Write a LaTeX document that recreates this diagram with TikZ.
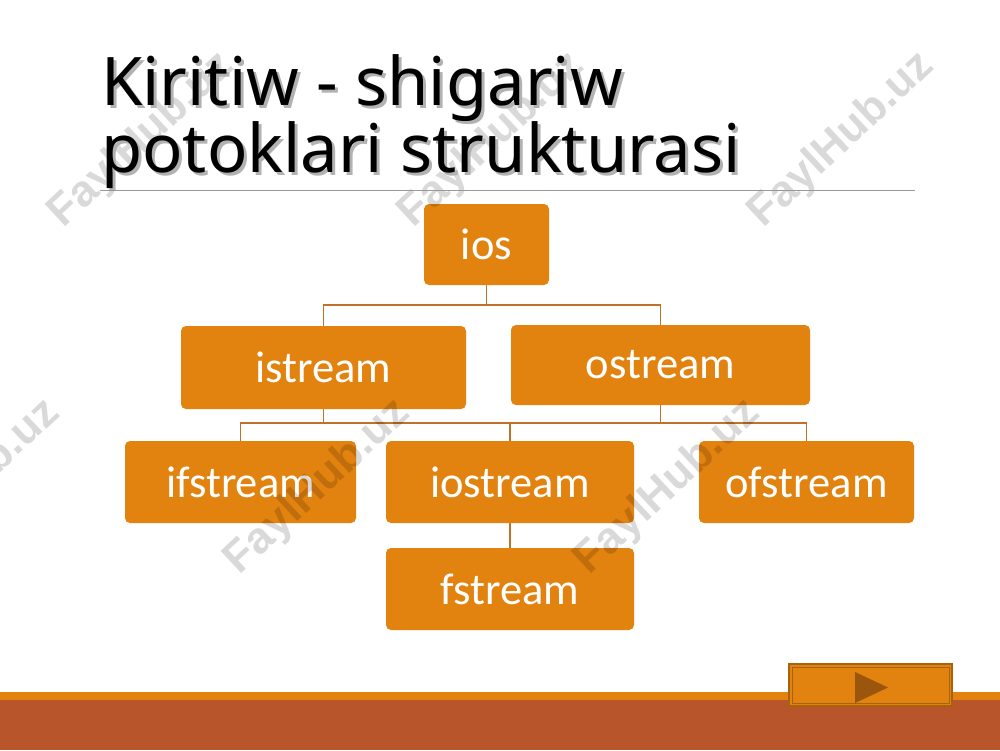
\documentclass[tikz,border=0pt]{standalone}
\usepackage{fontspec}
\setmainfont{Noto Sans}
\newfontfamily\cajafont{Carlito}
\newfontfamily\marcafont{Liberation Sans}
\definecolor{naranja}{HTML}{E2820F}
\definecolor{linea}{HTML}{BF7228}
\definecolor{oxido}{HTML}{B9552B}
\definecolor{boton}{HTML}{A8620E}
\definecolor{flecha}{HTML}{9A560C}

\begin{document}
\begin{tikzpicture}[x=1pt, y=-1pt,
  caja/.style={fill=naranja, rounded corners=5pt, inner sep=0pt, text=white,
    font=\cajafont\fontsize{44.5}{44.5}\selectfont},
  enlace/.style={draw=linea, line width=1.9pt},
  titulo/.style={anchor=base west, inner sep=0pt, font=\fontsize{67}{67}\selectfont},
  marca/.style={rotate=43, text=black, text opacity=0.15,
    font=\marcafont\bfseries\fontsize{44}{44}\selectfont}]

  \useasboundingbox (0,0) rectangle (1000,750);
  \fill[white] (0,0) rectangle (1000,750);

  % Franja inferior
  \fill[naranja] (0,692) rectangle (1000,700);
  \fill[oxido] (0,700) rectangle (1000,750);

  % Cajas del esquema
  \node[caja, minimum width=125, minimum height=81] (ios) at (486.5,244.5) {ios};
  \node[caja, minimum width=285, minimum height=83] (istream) at (323.5,367.5) {istream};
  \node[caja, minimum width=299, minimum height=80] (ostream) at (660.5,365) {ostream};
  \node[caja, minimum width=231, minimum height=82] (ifstream) at (240.5,482) {ifstream};
  \node[caja, minimum width=248, minimum height=82] (iostream) at (510,482) {iostream};
  \node[caja, minimum width=215, minimum height=82] (ofstream) at (806.5,482) {ofstream};
  \node[caja, minimum width=248, minimum height=82] (fstream) at (510,589) {fstream};

  % Enlaces entre niveles
  \draw[enlace] (ios.south) -- ++(0,20) -| (istream.north);
  \draw[enlace] (ios.south) -- ++(0,20) -| (ostream.north);
  \draw[enlace] (istream.south) -- ++(0,14) -| (ifstream.north);
  \draw[enlace] (istream.south) -- ++(0,14) -| (iostream.north);
  \draw[enlace] (ostream.south) -- ++(0,18) -| (iostream.north);
  \draw[enlace] (ostream.south) -- ++(0,18) -| (ofstream.north);
  \draw[enlace] (iostream.south) -- (fstream.north);

  % Marcas de agua
  \foreach \x/\y in {142/140, 492/140, 842/140, -32/487, 318/487, 668/487}
    \node[marca] at (\x,\y) {FaylHub.uz};

  % Titulo con sombra
  \node[titulo, text=black!30] (sombra1) at (104,108) {Kiritiw - shigariw};
  \node[titulo, text=black!30] (sombra2) at (104,175) {potoklari strukturasi};
  \node[titulo] (titulo1) at (101,105) {Kiritiw - shigariw};
  \node[titulo] (titulo2) at (101,172) {potoklari strukturasi};
  \draw[black!40, line width=0.8pt] (100,190) -- (915,190);

  % Boton de avance
  \draw[boton, fill=naranja, line width=1.5pt] (789,664) rectangle (952,706);
  \draw[boton, line width=0.6pt] (792,667) rectangle (949,703);
  \fill[flecha] (855,672) -- (888,687.5) -- (855,703) -- cycle;
\end{tikzpicture}
\end{document}
